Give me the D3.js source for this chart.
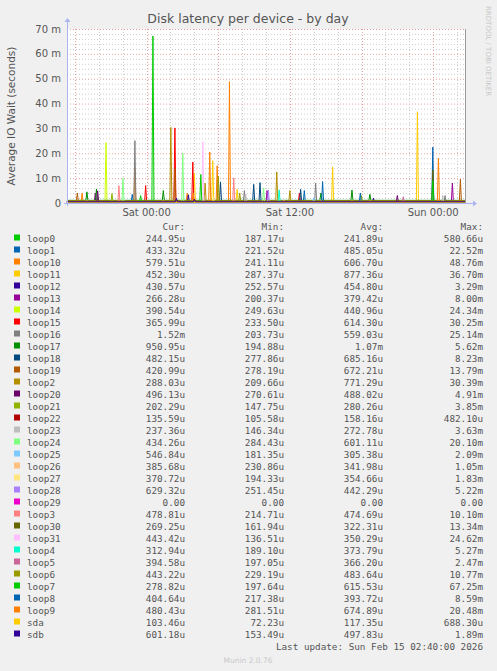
<!DOCTYPE html>
<html><head><meta charset="utf-8">
<script src="https://cdn.jsdelivr.net/npm/d3@7"></script>
<style>body{margin:0;background:#f0f0f0}</style>
</head><body>
<div id="container"></div>
<script>
// window size
let cwW = 497, cwH = 671;
const plot = {l: 67, r: 465, t: 29, b: 203};

// series names, in legend order
const names = ["loop0","loop1","loop10","loop11","loop12","loop13","loop14","loop15","loop16","loop17",
  "loop18","loop19","loop2","loop20","loop21","loop22","loop23","loop24","loop25","loop26","loop27",
  "loop28","loop29","loop3","loop30","loop31","loop4","loop5","loop6","loop7","loop8","loop9","sda","sdb"];
const colors = ["#00CC00","#0066B3","#FF8000","#FFCC00","#330099","#990099","#CCFF00","#FF0000","#808080","#008F00",
  "#00487D","#B35A00","#B38F00","#6B006B","#8FB300","#B30000","#BEBEBE","#80FF80","#80C9FF","#FFC080","#FFE680",
  "#AA80FF","#EE00CC","#FF8080","#666600","#FFBFFF","#00FFCC","#CC6699","#999900","#00CC00","#0066B3","#FF8000","#FFCC00","#330099"];
const cur = ["244.95u","433.32u","579.51u","452.30u","430.57u","266.28u","390.54u","365.99u","1.52m","950.95u",
  "482.15u","420.99u","288.03u","496.13u","202.29u","135.59u","237.36u","434.26u","546.84u","385.68u","370.72u",
  "629.32u","0.00","478.81u","269.25u","443.42u","312.94u","394.58u","443.22u","278.82u","404.64u","480.43u","103.46u","601.18u"];
const min = ["187.17u","221.52u","241.11u","287.37u","252.57u","200.37u","249.63u","233.50u","203.73u","194.88u",
  "277.86u","278.19u","209.66u","270.61u","147.75u","105.58u","146.34u","284.43u","181.35u","230.86u","194.33u",
  "251.45u","0.00","214.71u","161.94u","136.51u","189.10u","197.05u","229.19u","197.64u","217.38u","281.51u","72.23u","153.49u"];
const avg = ["241.89u","485.05u","606.70u","877.36u","454.80u","379.42u","440.96u","614.30u","559.03u","1.07m",
  "685.16u","672.21u","771.29u","488.02u","280.26u","158.16u","272.78u","601.11u","305.38u","341.98u","354.66u",
  "442.29u","0.00","474.69u","322.31u","350.29u","373.79u","366.20u","483.64u","615.53u","393.72u","674.89u","117.35u","497.83u"];
const max = ["580.66u","22.52m","48.76m","36.70m","3.29m","8.00m","24.34m","30.25m","25.14m","5.62m",
  "8.23m","13.79m","30.39m","4.91m","3.85m","482.10u","3.63m","20.10m","2.09m","1.05m","1.83m",
  "5.22m","0.00","10.10m","13.34m","24.62m","5.27m","2.47m","10.77m","67.25m","8.59m","20.48m","688.30u","1.89m"];

// baseline level per series (ms, read as the avg) and spikes [hours from Sat 00:00, ms]
const baseline = [0.24,0.49,0.61,0.88,0.45,0.38,0.44,0.61,0.56,1.07,0.69,0.67,0.77,0.49,0.28,0.16,0.27,0.60,0.31,0.34,0.35,
  0.44,0,0.47,0.32,0.35,0.37,0.37,0.48,0.62,0.39,0.67,0.12,0.50];
const spikes = {
  loop0: [[-2.6,0.58],[12.4,0.55]],
  loop1: [[23.97,22.5],[13.21,5.0],[-1.2,3.5]],
  loop10: [[6.94,48.8],[5.91,15.0],[-0.98,14.0],[3.4,4.0],[-5.4,4.0]],
  loop11: [[22.68,36.7],[15.58,14.5],[5.54,17.0],[7.58,5.5],[4.0,12.0]],
  loop12: [[3.5,3.3],[19.0,2.0]],
  loop13: [[25.61,8.0],[10.09,5.0],[-4.3,4.0]],
  loop14: [[-3.4,24.3]],
  loop15: [[2.37,30.2],[3.87,16.5],[-0.08,7.0],[12.8,4.0]],
  loop16: [[-0.98,25.1],[14.16,8.0],[8.19,5.0],[25.0,3.0]],
  loop17: [[-4.2,5.6],[1.4,5.0],[17.2,5.2],[-5.0,4.5],[18.7,3.5],[14.6,4.0]],
  loop18: [[8.97,7.5],[9.5,8.2],[6.19,8.5],[12.9,5.5]],
  loop19: [[2.37,13.8],[26.28,9.5],[-5.8,4.0]],
  loop2: [[2.03,30.4],[10.9,12.5],[4.9,8.0],[12.0,5.0]],
  loop20: [[-4.1,4.9],[21.0,3.0]],
  loop21: [[-2.9,3.8],[18.0,3.0]],
  loop22: [[7.0,0.48]],
  loop23: [[8.3,3.6],[24.8,3.0]],
  loop24: [[-1.98,10.0],[3.03,20.1],[9.8,6.0]],
  loop25: [[14.0,2.1]],
  loop26: [[11.5,1.05]],
  loop27: [[5.6,1.8]],
  loop28: [[10.2,5.2]],
  loop29: [],
  loop3: [[-2.32,7.0],[7.3,10.1]],
  loop30: [[23.97,13.3]],
  loop31: [[4.71,24.6]],
  loop4: [[11.1,5.3]],
  loop5: [[21.5,2.5]],
  loop6: [[6.0,10.8],[7.8,4.0]],
  loop7: [[0.53,67.2],[4.54,11.5],[23.97,9.0],[-0.5,3.0]],
  loop8: [[14.74,8.6],[17.9,4.0]],
  loop9: [[5.29,20.5],[24.44,18.0],[3.9,4.0]],
  sda: [[9.0,0.69]],
  sdb: [[2.5,1.9],[4.0,1.5]]
};
const yTicks = [0,10,20,30,40,50,60,70];

let svg = d3.select("#container").append("svg").attr("width", cwW).attr("height", cwH)
  .style("font-family","DejaVu Sans");

const sat = new Date(2026,1,14,0,0);
const hr = h => new Date(sat.getTime() + h*3600e3);
let x = d3.scaleTime().domain([hr(-6 - 40/60), hr(26 + 40/60)]).range([plot.l, plot.r]);
let y = d3.scaleLinear().domain([0,70]).range([plot.b, plot.t]);

svg.append("rect").attr("x",plot.l).attr("y",plot.t).attr("width",plot.r-plot.l).attr("height",plot.b-plot.t).attr("fill","#fff");

// grid
let g = svg.append("g");
d3.range(2,71,2).filter(v => v%10).forEach(v => g.append("line").attr("x1",plot.l).attr("x2",plot.r)
  .attr("y1",y(v)+0.5).attr("y2",y(v)+0.5).attr("stroke","#ccc").attr("stroke-dasharray","1,2"));
x.ticks(d3.timeHour.every(2)).filter(d => d.getHours()%6).forEach(d => g.append("line").attr("x1",Math.round(x(d))+0.5)
  .attr("x2",Math.round(x(d))+0.5).attr("y1",plot.t).attr("y2",plot.b).attr("stroke","#ccc").attr("stroke-dasharray","1,2"));
yTicks.slice(1).forEach(v => g.append("line").attr("x1",plot.l).attr("x2",plot.r)
  .attr("y1",y(v)+0.5).attr("y2",y(v)+0.5).attr("stroke","#e6a0a0").attr("stroke-dasharray","1,2"));
x.ticks(d3.timeHour.every(6)).forEach(d => g.append("line").attr("x1",Math.round(x(d))+0.5)
  .attr("x2",Math.round(x(d))+0.5).attr("y1",plot.t).attr("y2",plot.b).attr("stroke","#e6a0a0").attr("stroke-dasharray","1,2"));

// lines
let line = d3.line().x(d => x(hr(d[0]))).y(d => y(d[1]));
names.forEach((n,i) => {
  let b = baseline[i];
  let pts = [[-6.67,b]];
  spikes[n].slice().sort((a,c) => a[0]-c[0]).forEach(s => {
    pts.push([s[0]-0.085,b],[s[0],s[1]],[s[0]+0.085,b]);
  });
  pts.push([26.67,b]);
  svg.append("path").attr("d", line(pts)).attr("fill","none").attr("stroke",colors[i]).attr("stroke-width",1);
});

// axes
let axc = "#aab4f0";
svg.append("line").attr("x1",plot.l-3).attr("x2",plot.r+8).attr("y1",plot.b+0.5).attr("y2",plot.b+0.5).attr("stroke",axc);
svg.append("line").attr("x1",plot.l+0.5).attr("x2",plot.l+0.5).attr("y1",plot.t-7).attr("y2",plot.b+3).attr("stroke",axc);
svg.append("path").attr("d",`M${plot.r+8},${plot.b-2.5}L${plot.r+12},${plot.b+0.5}L${plot.r+8},${plot.b+3.5}Z`).attr("fill",axc);
svg.append("path").attr("d",`M${plot.l-2.5},${plot.t-7}L${plot.l+0.5},${plot.t-11}L${plot.l+3.5},${plot.t-7}Z`).attr("fill",axc);
svg.append("line").attr("x1",plot.r+0.5).attr("x2",plot.r+0.5).attr("y1",plot.t).attr("y2",plot.b).attr("stroke","#999");

yTicks.forEach(v => svg.append("text").attr("x",plot.l-6).attr("y",y(v)+3.5).attr("text-anchor","end")
  .attr("font-size",10).attr("fill","#555").text(v ? v+" m" : "0"));
x.ticks(d3.timeHour.every(12)).forEach(d => svg.append("text").attr("x",x(d)).attr("y",plot.b+13)
  .attr("text-anchor","middle").attr("font-size",10).attr("fill","#555").text(d3.timeFormat("%a %H:%M")(d)));

svg.append("text").attr("x",248).attr("y",23).attr("text-anchor","middle").attr("font-size",12.5).attr("fill","#555")
  .text("Disk latency per device - by day");
svg.append("text").attr("transform","translate(15,116) rotate(-90)").attr("text-anchor","middle")
  .attr("font-size",10.5).attr("fill","#555").text("Average IO Wait (seconds)");
svg.append("text").attr("transform","translate(486,6) rotate(90)").attr("font-size",7).attr("fill","#c8c8c8")
  .text("RRDTOOL / TOBI OETIKER");

// legend
let leg = svg.append("g").style("font-family","DejaVu Sans Mono").attr("font-size",9.3).attr("fill","#555");
const colX = [185,284,383,483];
["Cur:","Min:","Avg:","Max:"].forEach((t,k) => leg.append("text").attr("x",colX[k]).attr("y",230).attr("text-anchor","end").text(t));
names.forEach((n,i) => {
  let yy = 242 + i*12;
  leg.append("rect").attr("x",14).attr("y",yy-7.5).attr("width",6).attr("height",6).attr("fill",colors[i]);
  leg.append("text").attr("x",27).attr("y",yy).text(n);
  [cur[i],min[i],avg[i],max[i]].forEach((t,k) => leg.append("text").attr("x",colX[k]).attr("y",yy).attr("text-anchor","end").text(t));
});
leg.append("text").attr("x",483).attr("y",650).attr("text-anchor","end").text("Last update: Sun Feb 15 02:40:00 2026");
svg.append("text").attr("x",248).attr("y",663).attr("text-anchor","middle").attr("font-size",7.5).attr("fill","#c8c8c8").text("Munin 2.0.76");
</script>
</body></html>
